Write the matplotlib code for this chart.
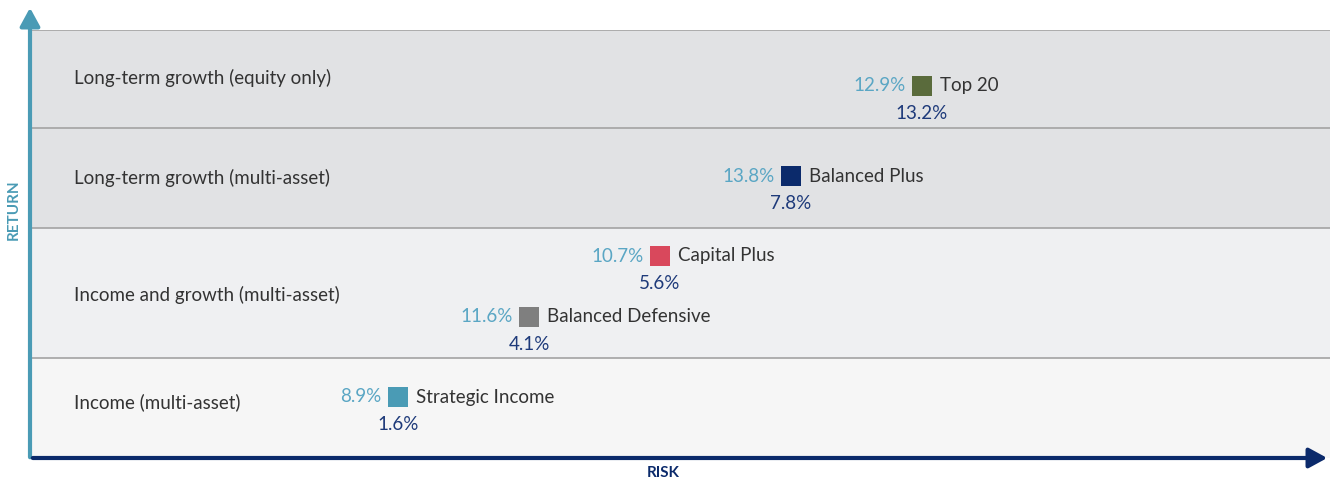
import matplotlib.pyplot as plt
from matplotlib.patches import FancyArrowPatch

plt.rcParams['font.family'] = ['Lato', 'DejaVu Sans']

# Risk bands (bottom to top) and their edges on the return scale
bands = ['Income (multi-asset)', 'Income and growth (multi-asset)',
         'Long-term growth (multi-asset)', 'Long-term growth (equity only)']
band_edges = [0, 1.0, 2.3, 3.3, 4.28]
band_label_y = [0.56, 1.63, 2.8, 3.8]
band_colors = ['#f6f6f6', '#eff0f2', '#e1e2e4', '#e1e2e4']

# Funds
funds = ['Strategic Income', 'Balanced Defensive', 'Capital Plus', 'Balanced Plus', 'Top 20']
risk = [8.9, 11.6, 10.7, 13.8, 12.9]
ret = [1.6, 4.1, 5.6, 7.8, 13.2]
pos_x = [3.68, 4.99, 6.30, 7.61, 8.92]
pos_y = [0.61, 1.41, 2.02, 2.82, 3.72]
fund_colors = ['#4a9bb5', '#7f7f7f', '#d9485c', '#0b2a6b', '#5a6b3c']

W, H = 1336, 484
FS = 13.5
fig = plt.figure(figsize=(W / 100, H / 100), dpi=100)
ax = fig.add_axes([30 / W, 26 / H, 1300 / W, 428 / H])
ax.set_xlim(0, 13)
ax.set_ylim(0, 4.28)
ax.axis('off')

for i, name in enumerate(bands):
    ax.axhspan(band_edges[i], band_edges[i + 1], color=band_colors[i], lw=0, zorder=0)
    ax.text(0.44, band_label_y[i], name, fontsize=FS, color='#333333', va='center')
for e in band_edges[1:]:
    ax.axhline(e, color='#a3a3a3', lw=1.2, zorder=1)

ax.scatter(pos_x, pos_y, marker='s', s=200, c=fund_colors, zorder=3, linewidths=0)
for x, y, name, rk, rt in zip(pos_x, pos_y, funds, risk, ret):
    ax.annotate(f'{rk}%', (x, y), xytext=(-12, 0), textcoords='offset points',
                ha='right', va='center', fontsize=FS, color='#5aa6c4')
    ax.annotate(name, (x, y), xytext=(13, 0), textcoords='offset points',
                ha='left', va='center', fontsize=FS, color='#333333')
    ax.annotate(f'{rt}%', (x, y), xytext=(0, -19.5), textcoords='offset points',
                ha='center', va='center', fontsize=FS, color='#1e3a7a')

# Axes arrows
ya = FancyArrowPatch((0, -0.02), (0, 4.53), arrowstyle='-|>,head_length=11,head_width=6',
                     color='#4a9bb5', lw=3, mutation_scale=1, clip_on=False, zorder=5)
xa = FancyArrowPatch((0, 0), (13.0, 0), arrowstyle='-|>,head_length=11,head_width=6',
                     color='#0b2a6b', lw=3, mutation_scale=1, clip_on=False, zorder=5)
ax.add_patch(ya)
ax.add_patch(xa)

fig.text(14 / W, 1 - 210 / H, 'RETURN', rotation=90, ha='center', va='center',
         fontsize=11, fontweight='bold', color='#4a9bb5')
fig.text(663 / W, 1 - 473 / H, 'RISK', ha='center', va='center',
         fontsize=11, fontweight='bold', color='#0b2a6b')

fig.savefig('out.png', dpi=100)
